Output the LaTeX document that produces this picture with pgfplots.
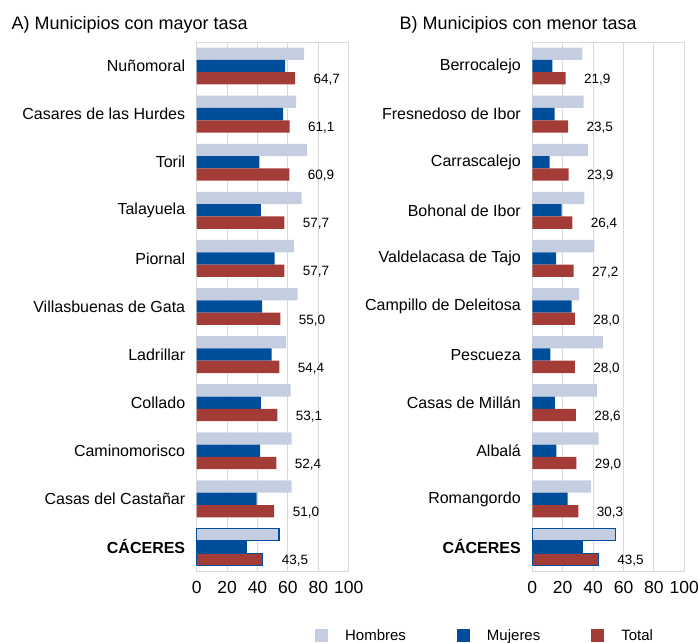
\documentclass[border=0pt]{standalone}
\usepackage{pgfplots}
\pgfplotsset{compat=1.18}
\usepackage{fontspec}
\setmainfont{Liberation Sans}
\definecolor{hom}{RGB}{197,206,225}
\definecolor{muj}{RGB}{0,77,153}
\definecolor{tot}{RGB}{163,60,55}
\definecolor{gridc}{RGB}{217,217,217}
\tikzset{
  hb/.style={fill=hom, draw=none, bar shift=12.3pt},
  mb/.style={fill=muj, draw=none, bar shift=0pt},
  tb/.style={fill=tot, draw=none, bar shift=-12.3pt},
  cac/.style={draw=muj, line width=1.2pt},
}
\pgfplotsset{
  panel/.style={
    xbar, scale only axis, width=152pt, height=529pt,
    xmin=0, xmax=100, ymin=-0.5, ymax=10.5,
    xtick={0,20,...,100}, ytick={0,...,10},
    major tick length=0pt,
    xmajorgrids, grid style={gridc, line width=1pt},
    axis line style={gridc, line width=1pt},
    bar width=12.3pt,
    /pgf/number format/assume math mode=true,
    xticklabel style={font=\fontsize{17.5}{20}\selectfont, yshift=-7pt},
    yticklabel style={font=\fontsize{16}{19}\selectfont, xshift=-8pt},
    clip=false,
  },
  vals/.style={
    nodes near coords={\pgfmathprintnumber[fixed,fixed zerofill,precision=1,use comma,assume math mode=true]{\pgfplotspointmeta}},
    nodes near coords style={anchor=west, xshift=15pt, yshift=-1.5pt, font=\fontsize{13.5}{16}\selectfont, text=black},
  },
}
\begin{document}
\begin{tikzpicture}
\useasboundingbox (0pt,-642pt) rectangle (698pt,0pt);
\node[anchor=base west, font=\fontsize{18}{21}\selectfont] at (8pt,-30pt) {A) Municipios con mayor tasa};
\node[anchor=base west, font=\fontsize{18}{21}\selectfont] at (396pt,-30pt) {B) Municipios con menor tasa};
% Left panel
\begin{axis}[panel, at={(196.7pt,-571pt)}, anchor=south west,
  yticklabels={\textbf{CÁCERES}, Casas del Castañar, Caminomorisco, Collado, Ladrillar, Villasbuenas de Gata, Piornal, Talayuela, Toril, Casares de las Hurdes, Nuñomoral}]
\addplot[hb] coordinates {(70.6,10) (65.4,9) (72.4,8) (69.1,7) (64.0,6) (66.4,5) (58.8,4) (61.8,3) (62.5,2) (62.5,1)};
\addplot[mb] coordinates {(58.1,10) (56.8,9) (41.2,8) (42.3,7) (51.3,6) (43.0,5) (49.3,4) (42.3,3) (41.7,2) (39.5,1)};
\addplot[tb, vals] coordinates {(64.7,10) (61.1,9) (60.9,8) (57.7,7) (57.7,6) (55.0,5) (54.4,4) (53.1,3) (52.4,2) (51.0,1)};
\addplot[hb, cac] coordinates {(54.2,0)};
\addplot[mb, cac] coordinates {(32.5,0)};
\addplot[tb, cac, vals] coordinates {(43.5,0)};
\end{axis}
% Right panel
\begin{axis}[panel, at={(532.3pt,-571pt)}, anchor=south west,
  yticklabels={\textbf{CÁCERES}, Romangordo, Albalá, Casas de Millán, Pescueza, Campillo de Deleitosa, Valdelacasa de Tajo, Bohonal de Ibor, Carrascalejo, Fresnedoso de Ibor, Berrocalejo},
  legend columns=3,
  legend style={draw=none, fill=none, at={(axis description cs:-1.43,-0.122)}, anchor=west, inner sep=0pt,
    font=\fontsize{15}{18}\selectfont,
    /tikz/every odd column/.append style={column sep=15pt},
    /tikz/every even column/.append style={column sep=49pt}},
]
\addplot[hb, legend image code/.code={\fill[hom] (0pt,-6.5pt) rectangle (13pt,6.5pt);}] coordinates {(33.0,10) (33.8,9) (36.5,8) (34.3,7) (40.9,6) (30.8,5) (46.4,4) (42.4,3) (43.7,2) (38.5,1)};
\addlegendentry{Hombres}
\addplot[mb, legend image code/.code={\fill[muj] (0pt,-6.5pt) rectangle (13pt,6.5pt);}] coordinates {(13.2,10) (14.7,9) (11.4,8) (19.3,7) (15.6,6) (25.9,5) (11.9,4) (14.9,3) (15.8,2) (23.3,1)};
\addlegendentry{Mujeres}
\addplot[tb, vals, legend image code/.code={\fill[tot] (0pt,-6.5pt) rectangle (13pt,6.5pt);}] coordinates {(21.9,10) (23.5,9) (23.9,8) (26.4,7) (27.2,6) (28.0,5) (28.0,4) (28.6,3) (29.0,2) (30.3,1)};
\addlegendentry{Total}
\addplot[hb, cac, forget plot] coordinates {(54.7,0)};
\addplot[mb, cac, forget plot] coordinates {(33.0,0)};
\addplot[tb, cac, vals, forget plot] coordinates {(43.5,0)};
\end{axis}
\end{tikzpicture}
\end{document}
